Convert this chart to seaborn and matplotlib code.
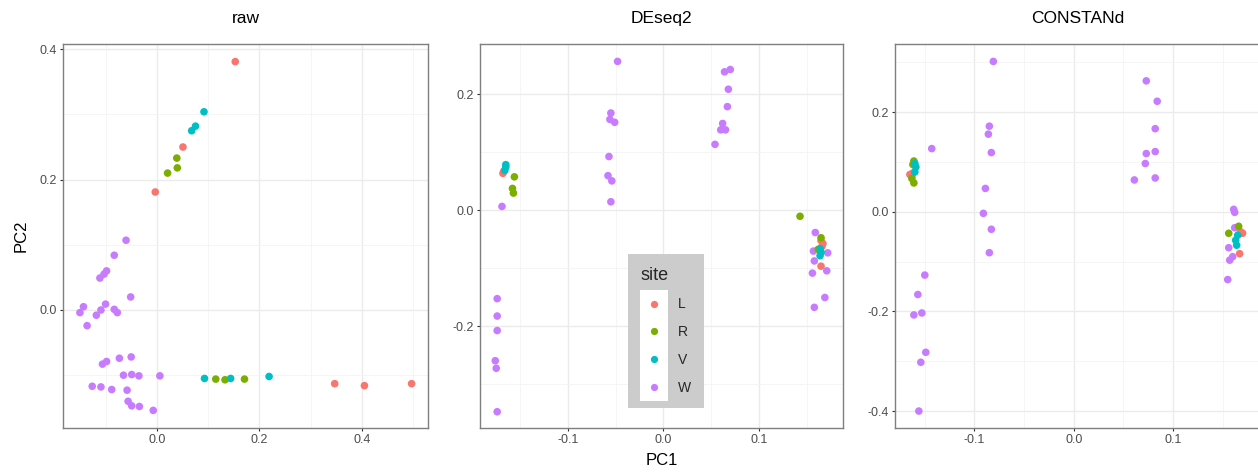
import matplotlib
matplotlib.use("Agg")
import matplotlib.pyplot as plt
from matplotlib.lines import Line2D
from matplotlib.legend_handler import HandlerTuple
from matplotlib.ticker import FixedLocator
import numpy as np
import pandas as pd
import seaborn as sns

# ---------------- data ----------------
sites = ["L", "R", "V", "W"]
site_colors = ["#F8766D", "#7CAE00", "#00BFC4", "#C77CFF"]

raw_pc1_W = [-0.060, -0.083, -0.098, -0.103, -0.111, -0.051, -0.143, -0.150, -0.100, -0.109,
             -0.118, -0.083, -0.077, -0.136, -0.050, -0.073, -0.098, -0.106, -0.065, -0.049,
             -0.035, 0.006, -0.126, -0.109, -0.088, -0.058, -0.056, -0.049, -0.034, -0.007]
raw_pc2_W = [0.107, 0.084, 0.060, 0.055, 0.049, 0.020, 0.005, -0.004, 0.009, 0.000,
             -0.008, 0.001, -0.004, -0.024, -0.072, -0.074, -0.079, -0.083, -0.100, -0.099,
             -0.101, -0.101, -0.117, -0.118, -0.122, -0.123, -0.140, -0.147, -0.148, -0.154]
raw_pc1_L = [0.153, 0.051, -0.003, 0.347, 0.405, 0.497]
raw_pc2_L = [0.381, 0.250, 0.181, -0.113, -0.116, -0.113]
raw_pc1_R = [0.039, 0.040, 0.021, 0.115, 0.133, 0.171]
raw_pc2_R = [0.233, 0.218, 0.210, -0.106, -0.107, -0.106]
raw_pc1_V = [0.092, 0.0755, 0.068, 0.093, 0.144, 0.219]
raw_pc2_V = [0.304, 0.282, 0.275, -0.105, -0.105, -0.102]

deseq_pc1_W = [-0.048, -0.055, -0.056, -0.051, -0.057, -0.058, -0.054, -0.055,
               0.070, 0.064, 0.068, 0.067, 0.062, 0.060, 0.065, 0.054,
               -0.169, -0.174, -0.174, -0.174, -0.176, -0.175, -0.174,
               0.159, 0.157, 0.172, 0.158, 0.156, 0.171, 0.169, 0.158]
deseq_pc2_W = [0.257, 0.168, 0.157, 0.152, 0.093, 0.060, 0.051, 0.015,
               0.243, 0.239, 0.209, 0.179, 0.150, 0.139, 0.139, 0.114,
               0.007, -0.152, -0.182, -0.207, -0.259, -0.272, -0.347,
               -0.038, -0.070, -0.073, -0.087, -0.108, -0.104, -0.150, -0.167]
deseq_pc1_L = [-0.168, 0.167, 0.165, 0.166, -0.167, 0.165]
deseq_pc2_L = [0.064, -0.057, -0.096, -0.062, 0.068, -0.052]
deseq_pc1_R = [-0.156, -0.158, -0.157, 0.143, 0.165, 0.162]
deseq_pc2_R = [0.058, 0.038, 0.030, -0.010, -0.047, -0.067]
deseq_pc1_V = [-0.165, -0.165, -0.166, 0.164, 0.164, 0.165]
deseq_pc2_V = [0.079, 0.075, 0.069, -0.066, -0.078, -0.072]

const_pc1_W = [-0.081, -0.085, -0.086, -0.083, -0.089, -0.091, -0.083, -0.085,
               -0.143,
               0.073, 0.084, 0.082, 0.073, 0.082, 0.072, 0.082, 0.061,
               0.161, 0.162, 0.162, 0.156, 0.160, 0.157, 0.155,
               -0.150, -0.157, -0.153, -0.161, -0.149, -0.154, -0.156]
const_pc2_W = [0.302, 0.172, 0.156, 0.119, 0.047, -0.003, -0.035, -0.082,
               0.127,
               0.263, 0.222, 0.167, 0.117, 0.121, 0.097, 0.068, 0.064,
               0.005, -0.001, -0.032, -0.072, -0.090, -0.097, -0.136,
               -0.127, -0.166, -0.203, -0.207, -0.282, -0.302, -0.400]
const_pc1_L = [-0.165, 0.170, 0.167, -0.163, 0.168, -0.162]
const_pc2_L = [0.075, -0.043, -0.084, 0.072, -0.040, 0.078]
const_pc1_R = [-0.161, -0.163, -0.161, 0.166, 0.156, -0.162]
const_pc2_R = [0.102, 0.067, 0.058, -0.029, -0.043, 0.095]
const_pc1_V = [-0.160, -0.159, -0.160, 0.165, 0.163, 0.164]
const_pc2_V = [0.097, 0.090, 0.080, -0.047, -0.057, -0.067]

panel_titles = ["raw", "DEseq2", "CONSTANd"]
raw_ticks_x = [0.0, 0.2, 0.4]
raw_ticks_y = [0.0, 0.2, 0.4]
deseq_ticks_x = [-0.1, 0.0, 0.1]
deseq_ticks_y = [-0.2, 0.0, 0.2]
const_ticks_x = [-0.1, 0.0, 0.1]
const_ticks_y = [-0.4, -0.2, 0.0, 0.2]


def make_df(w1, w2, l1, l2, r1, r2, v1, v2):
    return pd.DataFrame({
        "PC1": list(w1) + list(l1) + list(r1) + list(v1),
        "PC2": list(w2) + list(l2) + list(r2) + list(v2),
        "site": ["W"] * len(w1) + ["L"] * len(l1) + ["R"] * len(r1) + ["V"] * len(v1),
    })


dfs = [
    make_df(raw_pc1_W, raw_pc2_W, raw_pc1_L, raw_pc2_L, raw_pc1_R, raw_pc2_R, raw_pc1_V, raw_pc2_V),
    make_df(deseq_pc1_W, deseq_pc2_W, deseq_pc1_L, deseq_pc2_L, deseq_pc1_R, deseq_pc2_R, deseq_pc1_V, deseq_pc2_V),
    make_df(const_pc1_W, const_pc2_W, const_pc1_L, const_pc2_L, const_pc1_R, const_pc2_R, const_pc1_V, const_pc2_V),
]
ticks = [(raw_ticks_x, raw_ticks_y), (deseq_ticks_x, deseq_ticks_y), (const_ticks_x, const_ticks_y)]
limits = [((-0.183, 0.529), (-0.181, 0.408)),
          ((-0.192, 0.188), (-0.375, 0.287)),
          ((-0.180, 0.1875), (-0.434, 0.337))]

# ---------------- style ----------------
sns.set_theme(style="white")
plt.rcParams["font.family"] = ["Liberation Sans", "DejaVu Sans"]
plt.rcParams["axes.unicode_minus"] = False

W, H = 1258, 473
fig = plt.figure(figsize=(W / 100, H / 100), dpi=100)
fig.patch.set_facecolor("white")

lefts = [63, 480, 895]
widths = [365, 363, 365]
top_px, bot_px = 44, 428
palette = dict(zip(sites, site_colors))

axes = []
for i in range(3):
    ax = fig.add_axes([lefts[i] / W, (H - bot_px) / H, widths[i] / W, (bot_px - top_px) / H])
    axes.append(ax)
    sns.scatterplot(data=dfs[i], x="PC1", y="PC2", hue="site", hue_order=sites,
                    palette=palette, s=30, linewidth=0, ax=ax, legend=False, zorder=3)
    tx, ty = ticks[i]
    ax.set_xlim(*limits[i][0])
    ax.set_ylim(*limits[i][1])
    ax.set_xticks(tx)
    ax.set_yticks(ty)
    ax.set_xticklabels([f"{v:.1f}" for v in tx])
    ax.set_yticklabels([f"{v:.1f}" for v in ty])
    dx = (tx[1] - tx[0]) / 2
    dy = (ty[1] - ty[0]) / 2
    ax.xaxis.set_minor_locator(FixedLocator(np.arange(tx[0] - 3 * dx, tx[-1] + 3 * dx, 2 * dx)))
    ax.yaxis.set_minor_locator(FixedLocator(np.arange(ty[0] - 3 * dy, ty[-1] + 3 * dy, 2 * dy)))
    ax.grid(True, which="major", color="#EBEBEB", linewidth=1.0, zorder=0)
    ax.grid(True, which="minor", color="#F4F4F4", linewidth=0.6, zorder=0)
    ax.set_axisbelow(True)
    ax.tick_params(axis="both", which="major", direction="out", length=2.5, width=0.8,
                   color="#333333", labelcolor="#4D4D4D", labelsize=9, pad=2,
                   bottom=True, left=True)
    ax.tick_params(axis="both", which="minor", length=0)
    for sp in ax.spines.values():
        sp.set_color("#7F7F7F")
        sp.set_linewidth(1.0)
    ax.set_title(panel_titles[i], fontsize=12.5, color="black", pad=15)
    ax.set_xlabel("")
    ax.set_ylabel("")

axes[0].set_ylabel("PC2", fontsize=12, color="black", labelpad=8)
axes[1].set_xlabel("PC1", fontsize=12, color="black", labelpad=5)

# legend inside the DEseq2 panel
handles = [(Line2D([], [], marker="s", markersize=20.5, color="white", linestyle="none", markeredgewidth=0),
            Line2D([], [], marker="o", markersize=5.2, color=c, linestyle="none", markeredgewidth=0))
           for c in site_colors]
leg = axes[1].legend(handles, sites, title="site", loc="upper left",
                     bbox_to_anchor=((628 - 480) / 363, (428 - 254) / 384),
                     borderaxespad=0, frameon=True, fancybox=False, framealpha=1,
                     facecolor="#CCCCCC", edgecolor="none", fontsize=10, title_fontsize=13,
                     handler_map={tuple: HandlerTuple(ndivide=1, pad=0)},
                     handlelength=2.0, handleheight=0.7, labelspacing=1.0,
                     handletextpad=0.7, borderpad=0.9, alignment="left")
leg.set_zorder(5)

fig.savefig("out.png", dpi=100, facecolor="white")
